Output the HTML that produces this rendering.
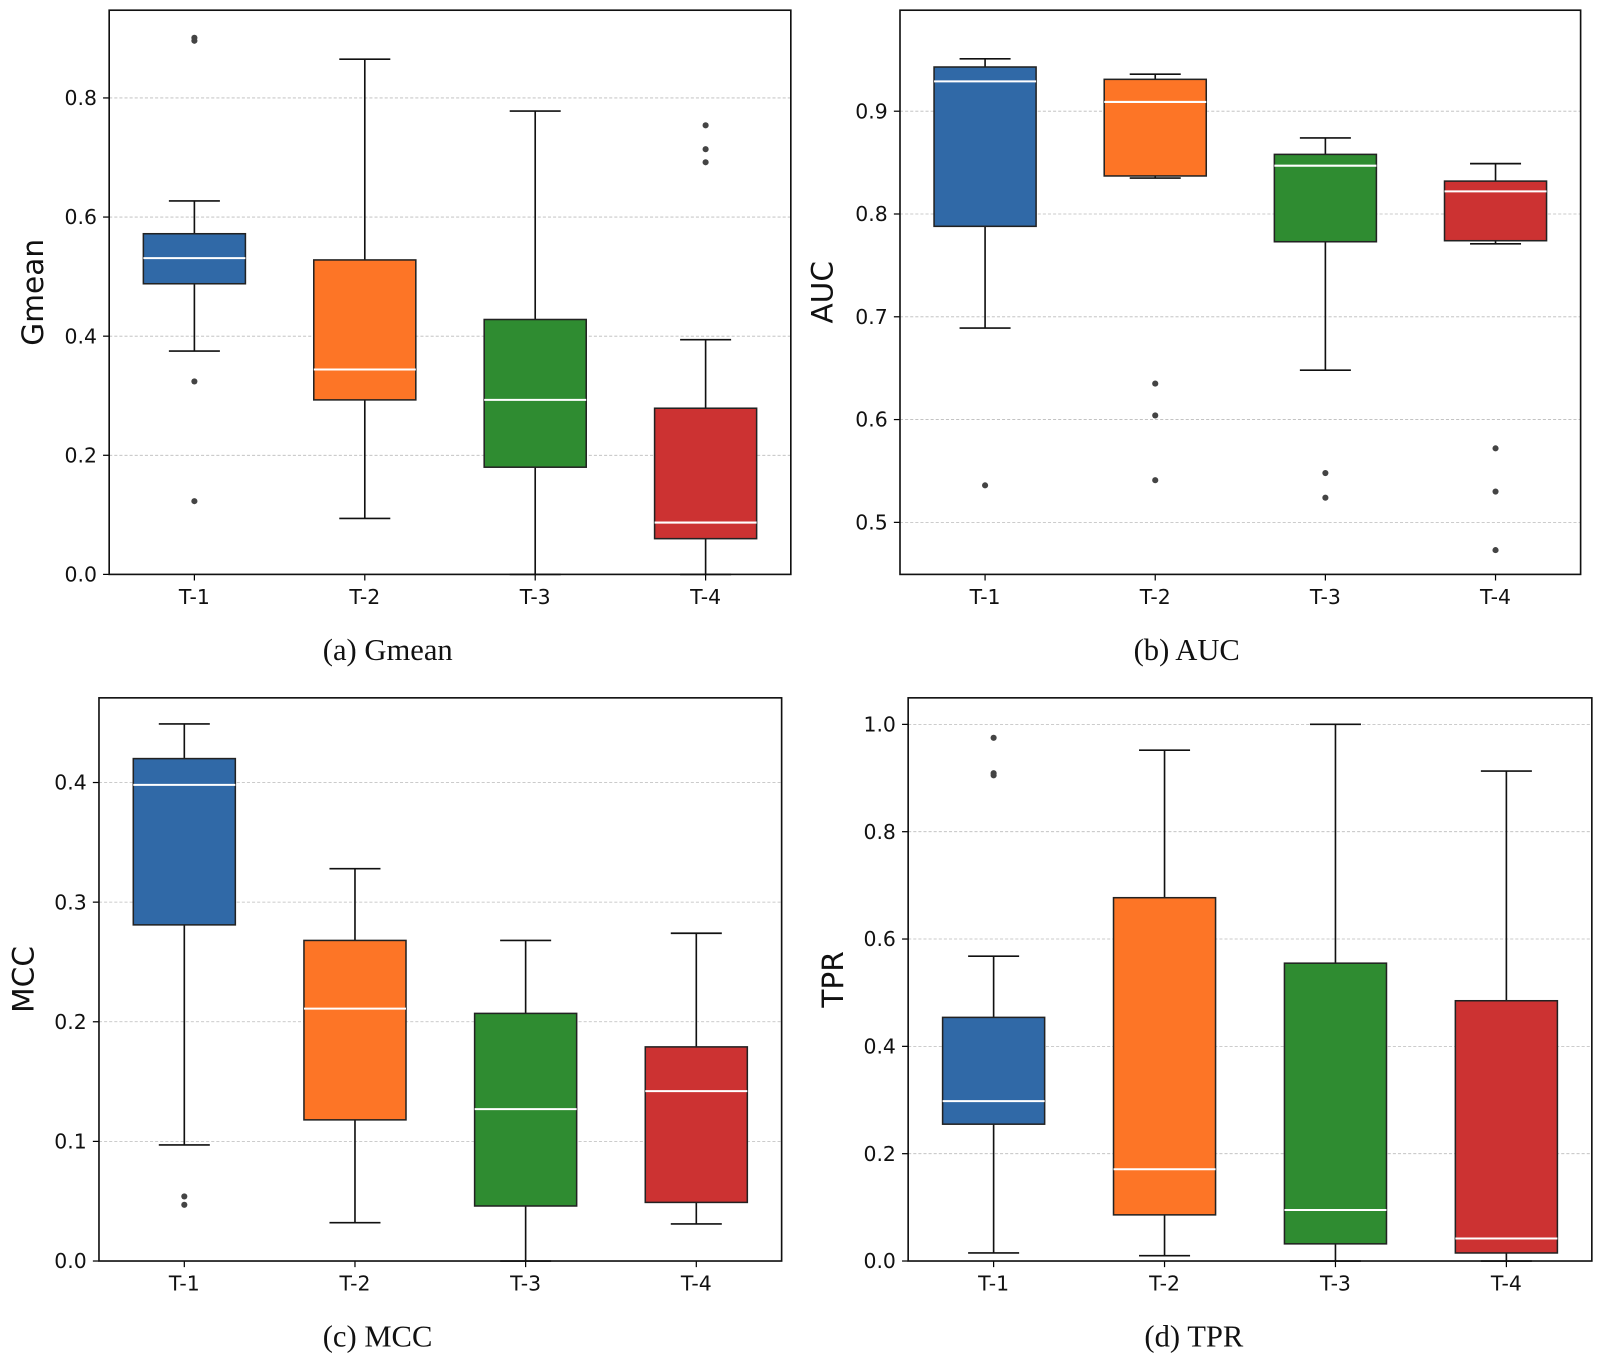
<!DOCTYPE html>
<html><head><meta charset="utf-8"><style>html,body{margin:0;padding:0;background:#fff}svg{display:block}</style></head>
<body>
<svg id="fig" width="1600" height="1361" viewBox="0 0 1568 1334" preserveAspectRatio="none" xmlns="http://www.w3.org/2000/svg"></svg>
<script>
const categories = ["T-1","T-2","T-3","T-4"];
const colors = ["#3069a7","#fd7526","#2f8c31","#cc3232"];
// [whiskerLo, q1, median, q3, whiskerHi]
const gmeanStats = [[0.375,0.488,0.531,0.572,0.627],[0.094,0.293,0.344,0.528,0.865],[0.0,0.180,0.293,0.428,0.778],[0.0,0.060,0.087,0.279,0.394]];
const gmeanOutliers = [[0.901,0.896,0.324,0.123],[],[],[0.754,0.714,0.692]];
const aucStats = [[0.689,0.788,0.929,0.943,0.951],[0.835,0.837,0.909,0.931,0.936],[0.648,0.773,0.847,0.858,0.874],[0.771,0.774,0.822,0.832,0.849]];
const aucOutliers = [[0.536],[0.635,0.604,0.541],[0.548,0.524],[0.572,0.530,0.473]];
const mccStats = [[0.097,0.281,0.398,0.420,0.449],[0.032,0.118,0.211,0.268,0.328],[0.0,0.046,0.127,0.207,0.268],[0.031,0.049,0.142,0.179,0.274]];
const mccOutliers = [[0.054,0.047],[],[],[]];
const tprStats = [[0.015,0.255,0.298,0.454,0.568],[0.01,0.086,0.171,0.677,0.952],[0.0,0.032,0.095,0.555,1.0],[0.0,0.015,0.042,0.485,0.913]];
const tprOutliers = [[0.975,0.909,0.905],[],[],[]];
const gmeanTicks = ["0.0","0.2","0.4","0.6","0.8"];
const aucTicks = ["0.5","0.6","0.7","0.8","0.9"];
const mccTicks = ["0.0","0.1","0.2","0.3","0.4"];
const tprTicks = ["0.0","0.2","0.4","0.6","0.8","1.0"];

const svg = document.getElementById('fig');
const NS = "http://www.w3.org/2000/svg";
function mk(tag, attrs, parent){const e=document.createElementNS(NS,tag);for(const k in attrs)e.setAttribute(k,attrs[k]);(parent||svg).appendChild(e);return e;}

function panel(p){
  const g = mk('g',{});
  
  
  const y = v => p.y1 - (v - p.vmin)/(p.vmax - p.vmin)*(p.y1 - p.y0);
  const n = categories.length, step = (p.x1-p.x0)/n;
  const x = i => p.x0 + step*(i+0.5);
  p.ticks.forEach(t=>{
    const yy=y(parseFloat(t));
    const gl=mk('line',{x1:p.x0,x2:p.x1,y1:yy,y2:yy,stroke:'#bbb','stroke-width':0.8,'stroke-dasharray':'3,2'},g);
    
    
    mk('line',{x1:p.x0-6,x2:p.x0,y1:yy,y2:yy,stroke:'#000','stroke-width':1.2},g);
    const tl=mk('text',{x:p.x0-12,y:yy+7,'text-anchor':'end','font-family':'DejaVu Sans, Liberation Sans, sans-serif','font-size':20,fill:'#111'},g);
    tl.textContent=t;
    
    
  });
  p.stats.forEach((s,i)=>{
    const cx=x(i), hw=50;
    const bg=mk('g',{},g);
    
    
    mk('line',{x1:cx,x2:cx,y1:y(s[0]),y2:y(s[1]),stroke:'#111','stroke-width':1.6},bg);
    mk('line',{x1:cx,x2:cx,y1:y(s[3]),y2:y(s[4]),stroke:'#111','stroke-width':1.6},bg);
    mk('line',{x1:cx-25,x2:cx+25,y1:y(s[0]),y2:y(s[0]),stroke:'#111','stroke-width':1.6},bg);
    mk('line',{x1:cx-25,x2:cx+25,y1:y(s[4]),y2:y(s[4]),stroke:'#111','stroke-width':1.6},bg);
    mk('rect',{x:cx-hw,y:y(s[3]),width:hw*2,height:y(s[1])-y(s[3]),fill:colors[i],stroke:'#222','stroke-width':1.5},bg);
    mk('line',{x1:cx-hw,x2:cx+hw,y1:y(s[2]),y2:y(s[2]),stroke:'#fff','stroke-width':2},bg);
    p.outliers[i].forEach(o=>{
      const c=mk('circle',{cx:cx,cy:y(o),r:3,fill:'#444'},bg);
      
      
    });
    mk('line',{x1:cx,x2:cx,y1:p.y1,y2:p.y1+6,stroke:'#000','stroke-width':1.2},g);
    const xl=mk('text',{x:cx,y:p.y1+29,'text-anchor':'middle','font-family':'DejaVu Sans, Liberation Sans, sans-serif','font-size':20,fill:'#111'},g);
    xl.textContent=categories[i];
    
    
  });
  mk('rect',{x:p.x0,y:p.y0,width:p.x1-p.x0,height:p.y1-p.y0,fill:'none',stroke:'#111','stroke-width':1.6},g);
  const yl=mk('text',{x:0,y:0,'text-anchor':'middle','font-family':'DejaVu Sans, Liberation Sans, sans-serif','font-size':29,fill:'#111',transform:`translate(${p.ylx},${(p.y0+p.y1)/2}) rotate(-90)`},g);
  yl.textContent=p.ylabel;
  
  
  const cap=mk('text',{x:p.capx,y:p.capy,'text-anchor':'middle','font-family':'Liberation Serif, serif','font-size':30,fill:'#111'},g);
  cap.textContent=p.caption;
  
  
}
panel({name:'gmean',x0:107,x1:775,y0:10,y1:563,vmin:0,vmax:(563-10)/583.75,ticks:gmeanTicks,stats:gmeanStats,outliers:gmeanOutliers,ylabel:'Gmean',ylx:42,caption:'(a) Gmean',capx:380,capy:647});
panel({name:'auc',x0:882,x1:1549,y0:10,y1:563,vmin:0.5-(563-512)/1007.5,vmax:0.5+(512-10)/1007.5,ticks:aucTicks,stats:aucStats,outliers:aucOutliers,ylabel:'AUC',ylx:816,caption:'(b) AUC',capx:1163,capy:647});
panel({name:'mcc',x0:97,x1:766,y0:684,y1:1236,vmin:0,vmax:(1236-684)/1172.5,ticks:mccTicks,stats:mccStats,outliers:mccOutliers,ylabel:'MCC',ylx:33,caption:'(c) MCC',capx:370,capy:1320});
panel({name:'tpr',x0:890,x1:1560,y0:684,y1:1236,vmin:0,vmax:(1236-684)/526,ticks:tprTicks,stats:tprStats,outliers:tprOutliers,ylabel:'TPR',ylx:826,caption:'(d) TPR',capx:1170,capy:1320});
</script>
</body></html>
